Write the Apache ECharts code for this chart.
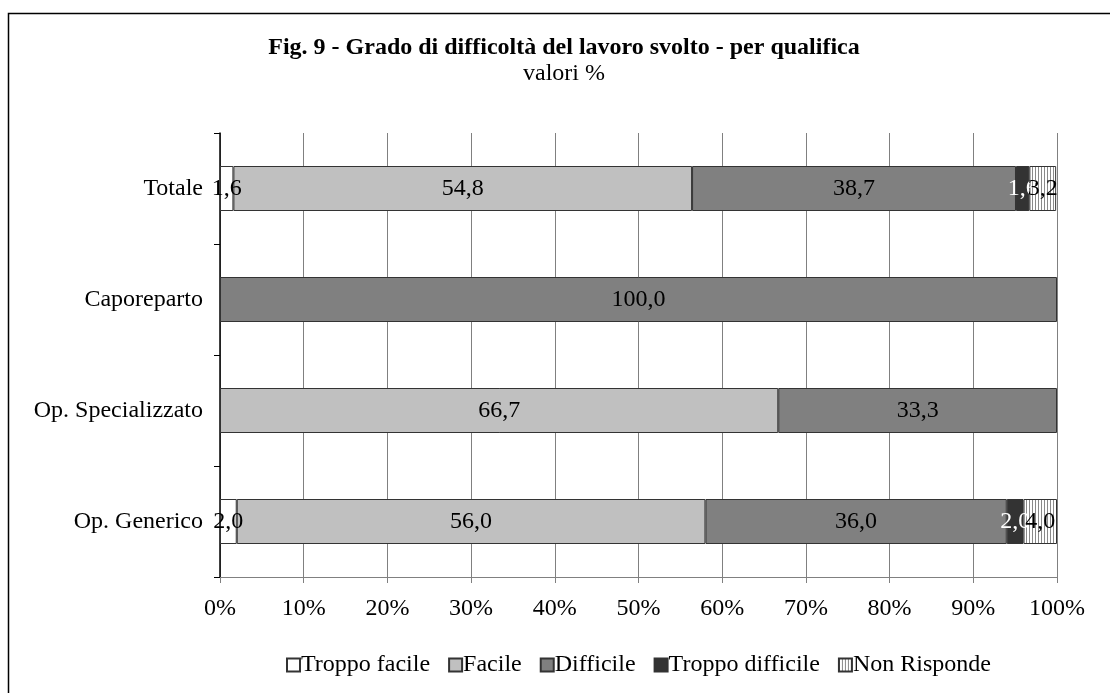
<!DOCTYPE html>
<html>
<head>
<meta charset="utf-8">
<script src="https://cdn.jsdelivr.net/npm/echarts@6/dist/echarts.min.js"></script>
<style>
  html, body { margin: 0; padding: 0; background: #fff; }
  #chart { width: 1110px; height: 693px; }
</style>
</head>
<body>
<div id="chart"></div>
<script>
// Categories, top to bottom
const categories = ['Totale', 'Caporeparto', 'Op. Specializzato', 'Op. Generico'];

// Percentage shares per answer (null = no share)
const troppoFacile    = [1.6, null, null, 2.0];
const facile          = [54.8, null, 66.7, 56.0];
const difficile       = [38.7, 100.0, 33.3, 36.0];
const troppoDifficile = [1.6, null, null, 2.0];
const nonRisponde     = [3.2, null, null, 4.0];

const seriesNames = ['Troppo facile', 'Facile', 'Difficile', 'Troppo difficile', 'Non Risponde'];
const xTicks = [0, 10, 20, 30, 40, 50, 60, 70, 80, 90, 100];

// Vertical hatch fill for "Non Risponde"
function hatch() {
  const c = document.createElement('canvas');
  c.width = 3; c.height = 3;
  const g = c.getContext('2d');
  g.fillStyle = '#ffffff';
  g.fillRect(0, 0, 3, 3);
  g.fillStyle = '#8a8a8a';
  g.fillRect(0, 0, 1, 3);
  return c;
}

const FONT = 'Liberation Serif, Times New Roman, serif';
const FS = 24;
const fills = ['#ffffff', '#c0c0c0', '#808080', '#333333', { image: hatch(), repeat: 'repeat' }];
const labelColors = ['#000', '#000', '#000', '#fff', '#000'];
const values = [troppoFacile, facile, difficile, troppoDifficile, nonRisponde];

const fmt = v => Number(v).toFixed(1).replace('.', ',');

const chart = echarts.init(document.getElementById('chart'), null, { renderer: 'canvas' });

chart.setOption({
  animation: false,
  backgroundColor: '#fff',
  textStyle: { fontFamily: FONT },
  graphic: [{
    type: 'rect',
    shape: { x: 8.5, y: 13.5, width: 1200, height: 800 },
    style: { fill: 'none', stroke: '#000', lineWidth: 1.5 },
    silent: true
  }, {
    type: 'text',
    x: 564, y: 36,
    style: {
      text: 'Fig. 9 - Grado di difficoltà del lavoro svolto - per qualifica',
      textAlign: 'center', textVerticalAlign: 'top',
      font: 'bold 24px ' + FONT, fill: '#000'
    }
  }, {
    type: 'text',
    x: 564, y: 62,
    style: {
      text: 'valori %',
      textAlign: 'center', textVerticalAlign: 'top',
      font: '24px ' + FONT, fill: '#000'
    }
  }],
  legend: {
    data: seriesNames,
    top: 648,
    left: 281,
    icon: 'rect',
    itemWidth: 13,
    itemHeight: 13,
    itemGap: 18,
    textStyle: { fontFamily: FONT, fontSize: FS, color: '#000', padding: [0, 0, 0, -4] }
  },
  grid: { left: 220, top: 133, width: 837, height: 444, containLabel: false },
  xAxis: {
    type: 'value',
    min: xTicks[0],
    max: xTicks[xTicks.length - 1],
    interval: 10,
    axisLine: { show: true, lineStyle: { color: '#808080', width: 1 } },
    axisTick: { show: true, length: 6, lineStyle: { color: '#808080' } },
    axisLabel: { formatter: '{value}%', fontFamily: FONT, fontSize: FS, color: '#000', margin: 20 },
    splitLine: { show: true, lineStyle: { color: '#808080', width: 1 } }
  },
  yAxis: {
    type: 'category',
    data: categories,
    inverse: true,
    axisLine: { show: true, lineStyle: { color: '#000', width: 1.5 } },
    axisTick: { show: true, length: 6, lineStyle: { color: '#000' } },
    axisLabel: { fontFamily: FONT, fontSize: FS, color: '#000', margin: 17 },
    splitLine: { show: false }
  },
  series: seriesNames.map((name, i) => ({
    name,
    type: 'bar',
    stack: 'tot',
    barWidth: 45,
    data: values[i],
    itemStyle: { color: fills[i], borderColor: '#333', borderWidth: 1 },
    label: {
      show: true,
      position: 'inside',
      formatter: p => (p.value == null ? '' : fmt(p.value)),
      fontFamily: FONT,
      fontSize: FS,
      color: labelColors[i],
      textBorderWidth: 0
    }
  }))
});
</script>
</body>
</html>
